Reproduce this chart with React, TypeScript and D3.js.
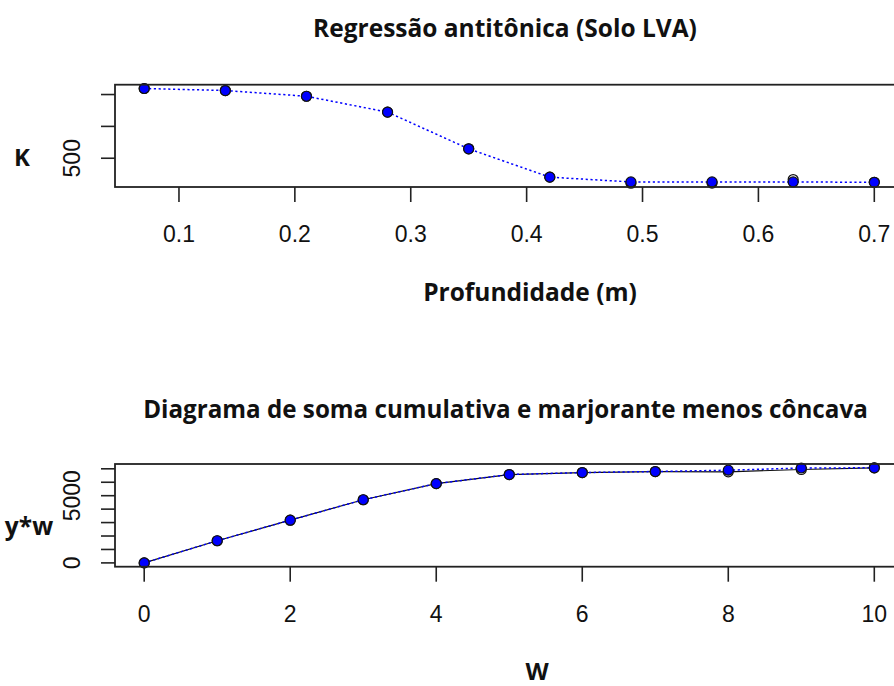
import React from "react";
import * as d3 from "d3";

// ---- Data (top: antitonic regression of K on depth) ----
const depth = [0.07, 0.14, 0.21, 0.28, 0.35, 0.42, 0.49, 0.56, 0.63, 0.7];
const kRaw = [1595, 1563, 1473, 1224, 648, 203, 108, 110, 165, 122];
const kFit = [1595, 1563, 1473, 1224, 648, 203, 128, 128, 128, 122];
const topXTicks = [0.1, 0.2, 0.3, 0.4, 0.5, 0.6, 0.7];
const topYTicks = [500, 1000, 1500];
const topYLabels = ["500", "", ""];

// ---- Data (bottom: cumulative sum diagram and least concave majorant) ----
const wVals = [0, 1, 2, 3, 4, 5, 6, 7, 8, 9, 10];
const cumRaw = [0, 1649, 3178, 4699, 5898, 6573, 6723, 6798, 6775, 6947, 7075];
const cumMaj = [0, 1649, 3178, 4699, 5898, 6573, 6723, 6798, 6895, 7060, 7075];
const botXTicks = [0, 2, 4, 6, 8, 10];
const botYTicks = [0, 1000, 2000, 3000, 4000, 5000, 6000, 7000];
const botYLabels = ["0", "", "", "", "", "5000", "", ""];

const TITLE_FONT = "'Open Sans', 'DejaVu Sans', sans-serif";
const TICK_FONT = "'Liberation Sans', Arial, sans-serif";

function ext(vals: number[]): [number, number] {
  const lo = d3.min(vals) as number;
  const hi = d3.max(vals) as number;
  const pad = (hi - lo) * 0.04;
  return [lo - pad, hi + pad];
}

type PanelProps = {
  xs: number[];
  yRaw: number[];
  yFit: number[];
  xTicks: number[];
  xFmt: (v: number) => string;
  yTicks: number[];
  yLabels: string[];
  top: number;
  bottom: number;
  rawLine: boolean;
};

const LEFT = 115;
const RIGHT = 903.5;

function Panel(p: PanelProps) {
  const x = d3.scaleLinear().domain(ext(p.xs)).range([LEFT, RIGHT]);
  const y = d3.scaleLinear().domain(ext([...p.yRaw, ...p.yFit])).range([p.bottom, p.top]);
  const line = d3
    .line<number>()
    .x((_, i) => x(p.xs[i]))
    .y((d) => y(d));
  const r = 5;
  return (
    <g>
      {p.rawLine && (
        <path d={line(p.yRaw) || ""} fill="none" stroke="#111" strokeWidth={1.2} />
      )}
      <path
        d={line(p.yFit) || ""}
        fill="none"
        stroke="#0000ff"
        strokeWidth={1.5}
        strokeDasharray="2.2,2.6"
      />
      {p.yRaw.map((v, i) => (
        <circle key={"r" + i} cx={x(p.xs[i])} cy={y(v)} r={r} fill="white" stroke="#111" strokeWidth={1.2} />
      ))}
      {p.yFit.map((v, i) => (
        <circle key={"f" + i} cx={x(p.xs[i])} cy={y(v)} r={r} fill="#0000ff" stroke="#111" strokeWidth={1.2} />
      ))}
      {/* box */}
      <rect x={LEFT} y={p.top} width={RIGHT - LEFT} height={p.bottom - p.top} fill="none" stroke="#222" strokeWidth={1.8} />
      {/* x axis */}
      {p.xTicks.map((t) => (
        <g key={"xt" + t}>
          <line x1={x(t)} x2={x(t)} y1={p.bottom} y2={p.bottom + 15} stroke="#222" strokeWidth={1.6} />
          <text
            x={x(t)}
            y={p.bottom + 55}
            textAnchor="middle"
            fontFamily={TICK_FONT}
            fontSize={23}
            fill="#111"
          >
            {p.xFmt(t)}
          </text>
        </g>
      ))}
      {/* y axis */}
      {p.yTicks.map((t, i) => (
        <g key={"yt" + t}>
          <line x1={LEFT - 14} x2={LEFT} y1={y(t)} y2={y(t)} stroke="#222" strokeWidth={1.6} />
          {p.yLabels[i] && (
            <text
              transform={`translate(80,${y(t)}) rotate(-90)`}
              textAnchor="middle"
              fontFamily={TICK_FONT}
              fontSize={23}
              fill="#111"
            >
              {p.yLabels[i]}
            </text>
          )}
        </g>
      ))}
    </g>
  );
}

export default function App() {
  return (
    <svg
      width={894}
      height={686}
      style={{ position: "absolute", left: 0, top: 0, background: "white" }}
    >
      <rect width={894} height={686} fill="white" />
      <text x={505} y={37} textAnchor="middle" fontFamily={TITLE_FONT} fontWeight="bold" fontSize={24.5} fill="#111">
        Regressão antitônica (Solo LVA)
      </text>
      <Panel
        xs={depth}
        yRaw={kRaw}
        yFit={kFit}
        xTicks={topXTicks}
        xFmt={(v) => d3.format(".1f")(v)}
        yTicks={topYTicks}
        yLabels={topYLabels}
        top={84.7}
        bottom={187}
        rawLine={false}
      />
      <text x={530} y={301} textAnchor="middle" fontFamily={TITLE_FONT} fontWeight="bold" fontSize={24.5} fill="#111">
        Profundidade (m)
      </text>
      <text x={22} y={166} textAnchor="middle" fontFamily={TITLE_FONT} fontWeight="bold" fontSize={24} fill="#111">
        K
      </text>

      <text x={505.5} y={418} textAnchor="middle" fontFamily={TITLE_FONT} fontWeight="bold" fontSize={24.2} fill="#111">
        Diagrama de soma cumulativa e marjorante menos côncava
      </text>
      <Panel
        xs={wVals}
        yRaw={cumRaw}
        yFit={cumMaj}
        xTicks={botXTicks}
        xFmt={(v) => String(v)}
        yTicks={botYTicks}
        yLabels={botYLabels}
        top={464}
        bottom={566.7}
        rawLine={true}
      />
      <text x={537} y={680} textAnchor="middle" fontFamily={TITLE_FONT} fontWeight="bold" fontSize={24} fill="#111">
        W
      </text>
      <text x={29} y={535} textAnchor="middle" fontFamily={TITLE_FONT} fontWeight="bold" fontSize={24.5} fill="#111">
        y*w
      </text>
    </svg>
  );
}
